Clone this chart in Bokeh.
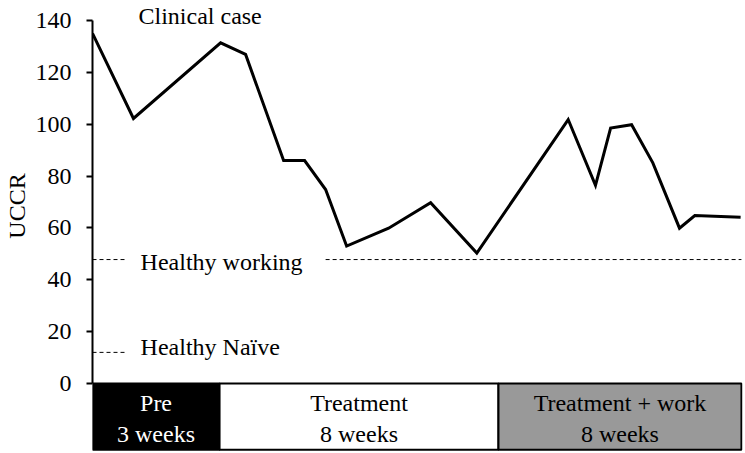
from bokeh.plotting import figure
from bokeh.models import Range1d, FixedTicker
from bokeh.core.properties import value
from bokeh.embed import file_html
from bokeh.resources import INLINE

# Data (x in time units, y = UCCR)
x_vals = [0, 1.95, 6.1, 7.29, 9.1, 10.1, 11.1, 12.1, 14.1, 16.1, 18.3,
          22.65, 23.95, 24.67, 25.67, 26.68, 27.95, 28.68, 30.86]
uccr = [135.0, 102.2, 131.4, 126.9, 86.0, 86.0, 74.8, 53.0, 59.9, 69.7, 50.3,
        101.8, 76.4, 98.5, 99.8, 85.1, 59.9, 64.8, 64.1]

y_ticks = [0, 20, 40, 60, 80, 100, 120, 140]

healthy_working = 47.8
healthy_naive = 12.0

phase_labels = ["Pre", "Treatment", "Treatment + work"]
phase_durations = ["3 weeks", "8 weeks", "8 weeks"]
phase_start = [0, 6.05, 19.33]
phase_end = [6.05, 19.33, 30.9]
phase_fill = ["#000000", "#ffffff", "#999999"]
phase_text_color = ["#ffffff", "#000000", "#000000"]

FONT = "'Liberation Serif', 'Times New Roman', serif"
FS = "24px"

p = figure(width=745, height=453, output_backend="svg", toolbar_location=None,
           x_range=Range1d(0, 30.95), y_range=Range1d(-27.0, 147.71),
           x_axis_location=None, min_border_left=92, min_border_right=3,
           min_border_top=0, min_border_bottom=0)
p.outline_line_color = None
p.grid.visible = False
p.background_fill_color = "white"
p.border_fill_color = "white"

ax = p.yaxis[0]
ax.bounds = (0, 140)
ax.ticker = FixedTicker(ticks=y_ticks)
ax.minor_tick_line_color = None
ax.major_tick_out = 6
ax.major_tick_in = 0
ax.major_tick_line_width = 2
ax.axis_line_width = 2
ax.major_label_text_font = FONT
ax.major_label_text_font_size = FS
ax.major_label_text_color = "black"
ax.major_label_standoff = 15
# leading no-break spaces lift the title to the middle of the 0-140 span
ax.axis_label = "\u00a0" * 7 + "UCCR"
ax.axis_label_text_font = FONT
ax.axis_label_text_font_size = FS
ax.axis_label_text_font_style = "normal"
ax.axis_label_text_color = "black"
ax.axis_label_standoff = 3

# Reference lines
dash_x0 = [0, 11.1, 0]
dash_x1 = [1.57, 30.9, 1.57]
dash_y = [healthy_working, healthy_working, healthy_naive]
p.segment(x0=dash_x0, y0=dash_y, x1=dash_x1, y1=dash_y,
          line_color="black", line_width=1, line_dash="4 3")

# Main line
p.line(x_vals, uccr, line_color="black", line_width=3, line_join="miter")

# Phase boxes
p.quad(left=phase_start, right=phase_end, bottom=[-25.6] * 3, top=[0] * 3,
       fill_color=phase_fill, line_color="black", line_width=2)

centers = [(a + b) / 2 for a, b in zip(phase_start, phase_end)]
p.text(x=centers, y=[-7.7] * 3, text=phase_labels, text_color=phase_text_color,
       text_font=value(FONT), text_font_size=FS, text_align="center",
       text_baseline="alphabetic")
p.text(x=centers, y=[-19.3] * 3, text=phase_durations, text_color=phase_text_color,
       text_font=value(FONT), text_font_size=FS, text_align="center",
       text_baseline="alphabetic")

# Annotations
p.text(x=[2.19, 2.29, 2.29], y=[141.6, 46.7, 13.9],
       text=["Clinical case", "Healthy working", "Healthy Naïve"],
       text_color="black", text_font=value(FONT), text_font_size=FS,
       text_align="left", text_baseline="alphabetic")

open("out.html", "w").write(file_html(p, INLINE))
